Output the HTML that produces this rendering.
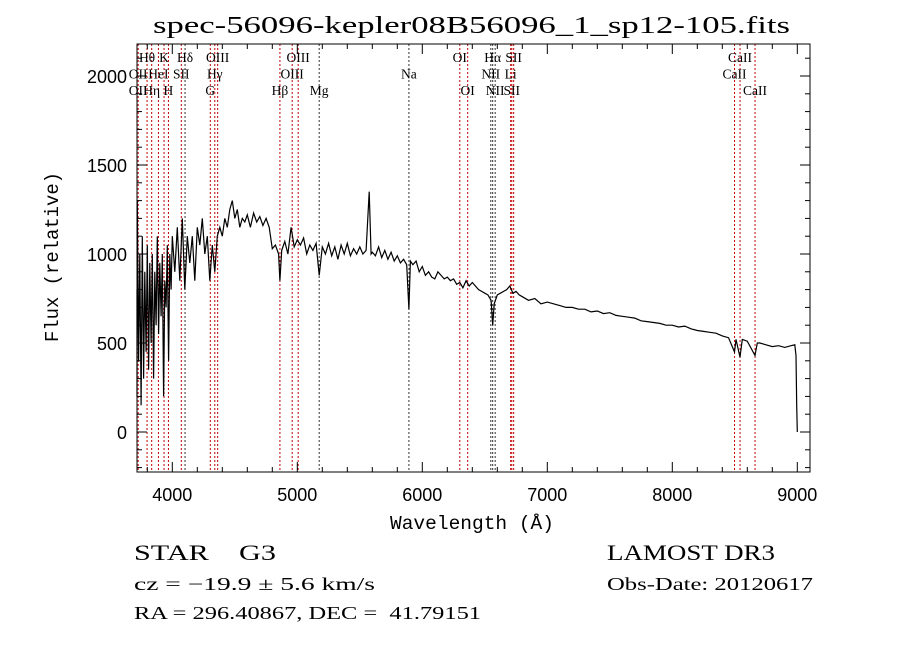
<!DOCTYPE html>
<html><head><meta charset="utf-8"><style>
html,body{margin:0;padding:0;background:#fff;}
svg{display:block;font-family:"Liberation Serif",serif;}
text{white-space:pre;}
</style></head><body>
<svg id="chart" width="900" height="649" viewBox="0 0 900 649" xmlns="http://www.w3.org/2000/svg" xml:space="preserve">
<rect width="900" height="649" fill="#fff"/>
<text x="153" y="33" font-size="24" textLength="637" lengthAdjust="spacingAndGlyphs">spec-56096-kepler08B56096_1_sp12-105.fits</text>
<g id="lines"></g>
<g id="labels"></g>
<g id="spec"></g>
<g id="axes"></g>
<text x="390" y="529" font-size="19" font-family="Liberation Mono, monospace" textLength="164" lengthAdjust="spacingAndGlyphs">Wavelength (Å)</text>
<text transform="translate(58,342) rotate(-90)" font-size="19" font-family="Liberation Mono, monospace" textLength="170" lengthAdjust="spacingAndGlyphs">Flux (relative)</text>
<text x="134" y="560" font-size="22" textLength="142" lengthAdjust="spacingAndGlyphs">STAR    G3</text>
<text x="607" y="560" font-size="22" textLength="168" lengthAdjust="spacingAndGlyphs">LAMOST DR3</text>
<text x="134" y="590" font-size="18" textLength="241" lengthAdjust="spacingAndGlyphs">cz = −19.9 ± 5.6 km/s</text>
<text x="607" y="590" font-size="18" textLength="206" lengthAdjust="spacingAndGlyphs">Obs-Date: 20120617</text>
<text x="134" y="619" font-size="18" textLength="347" lengthAdjust="spacingAndGlyphs">RA = 296.40867, DEC =  41.79151</text>
</svg>
<script>
const waves=[3700,3710,3720,3730,3740,3750,3760,3770,3780,3790,3800,3810,3820,3830,3840,3850,3860,3870,3880,3890,3900,3910,3920,3930,3940,3950,3960,3970,3980,3990,4000,
4020,4040,4060,4080,4100,4120,4140,4160,4180,4200,4220,4240,4260,4280,4300,4320,4340,4360,4380,4400,4420,4440,4460,4480,4500,4520,4540,4560,4580,4600,
4625,4650,4675,4700,4725,4750,4775,4800,4825,4850,4861,4875,4900,4925,4950,4975,5000,5025,5050,5075,5100,5125,5150,5175,5200,5225,5250,5275,5300,5325,5350,5375,5400,5425,5450,5475,5500,5525,5550,5575,5590,5600,
5625,5650,5675,5700,5725,5750,5775,5800,5825,5850,5875,5893,5905,5925,5950,5975,6000,6025,6050,6075,6100,6125,6150,6175,6200,6225,6250,6275,6300,6325,6350,6375,6400,6425,6450,6475,6500,6525,6550,6563,6575,6600,6625,6650,6675,6700,6725,6750,6775,6800,
6850,6900,6950,7000,7050,7100,7150,7200,7250,7300,7350,7400,7450,7500,7550,7600,7650,7700,7750,7800,7850,7900,7950,8000,8050,8100,8150,8200,8250,8300,8350,8400,8450,8498,8510,8542,8560,8600,8662,8680,8700,8750,8800,8850,8900,8950,8980,8990,8995,9000];
const flux=[800,200,1300,400,1000,150,1100,300,900,450,1050,350,950,500,1000,300,900,600,1100,550,950,650,1000,200,850,700,1050,400,1000,800,1100,
900,1150,850,1200,800,1100,950,1100,850,1150,1050,1200,1000,1100,850,1050,900,1100,1150,1100,1200,1150,1250,1300,1200,1250,1150,1200,1180,1220,
1150,1230,1180,1210,1160,1200,1150,1030,1050,1000,850,1020,1070,1000,1150,1040,1080,1050,1090,1000,1050,1020,1060,880,1040,1000,1060,990,1040,970,1050,1000,1060,990,1030,1000,1040,1000,1020,1350,1000,1010,
990,1040,980,1020,970,1010,960,990,950,970,940,690,960,940,960,900,930,880,900,870,860,900,880,860,870,850,860,830,840,810,850,820,840,820,800,790,780,770,740,600,720,770,780,790,800,820,780,790,770,760,
740,750,720,730,720,710,700,700,690,690,675,680,665,670,655,650,645,640,625,620,615,610,600,600,590,595,580,570,565,560,555,540,530,450,520,420,520,510,430,500,500,490,480,485,475,485,490,430,150,0];
const xTicks=[4000,5000,6000,7000,8000,9000];
const yTicks=[0,500,1000,1500,2000];
const lineWaves=[3727,3798,3835,3889,3934,3969,4072,4102,4304,4340,4363,4861,4959,5007,5175,5893,6300,6363,6548,6563,6583,6707,6716,6731,8498,8542,8662];
const lineBlack=[4102,5175,5893,6548,6563,6583];
const labelNames=["Hθ","K","Hδ","OIII","OIII","OI","Hα","SII","CaII","OII","HeI","SII","Hγ","OIII","Na","NII","Li","CaII","OII","Hη","H","G","Hβ","Mg","OI","NII","SII","CaII"];
const labelWaves=[3798,3934,4102,4363,5007,6300,6563,6731,8542,3727,3889,4072,4340,4959,5893,6548,6707,8498,3727,3835,3969,4304,4861,5175,6363,6583,6716,8662];
const labelRows=[0,0,0,0,0,0,0,0,0,1,1,1,1,1,1,1,1,1,2,2,2,2,2,2,2,2,2,2];

const L=137,R=810,T=44,B=472;
const X=w=>172.3+(w-4000)*0.125;
const Y=f=>432-f*0.178;
const NS="http://www.w3.org/2000/svg";
function mk(tag,attrs,parent){const e=document.createElementNS(NS,tag);for(const k in attrs)e.setAttribute(k,attrs[k]);parent.appendChild(e);return e;}
const gl=document.getElementById('lines'),glab=document.getElementById('labels'),gs=document.getElementById('spec'),ga=document.getElementById('axes');
lineWaves.forEach(w=>{
  const e=mk('line',{x1:X(w),x2:X(w),y1:T,y2:B,stroke:lineBlack.includes(w)?'#333':'#c00000','stroke-width':1,'stroke-dasharray':'2,2'},gl);
  
  
});
labelNames.forEach((n,i)=>{
  const t=mk('text',{x:X(labelWaves[i]),y:62+labelRows[i]*16.5,'font-size':13.5,'text-anchor':'middle'},glab);
  t.textContent=n;
  
  
});
let d='';
waves.forEach((w,i)=>{
  const x=Math.max(L,X(w)),y=Math.min(B,Math.max(T,Y(flux[i])));
  d+=(i?'L':'M')+x.toFixed(1)+','+y.toFixed(1);
});
const p=mk('path',{d:d,fill:'none',stroke:'#000','stroke-width':1.2},gs);


const box=mk('rect',{x:L,y:T,width:R-L,height:B-T,fill:'none',stroke:'#000','stroke-width':1},ga);


for(let w=3800;w<=9100;w+=200){
  const x=X(w);if(x<L||x>R)continue;
  const len=(w%1000===0)?10:5;
  mk('line',{x1:x,x2:x,y1:B,y2:B-len,stroke:'#000'},ga);
  mk('line',{x1:x,x2:x,y1:T,y2:T+len,stroke:'#000'},ga);
}
for(let f=-200;f<=2100;f+=100){
  const y=Y(f);if(y<T||y>B)continue;
  const len=(f%500===0)?10:5;
  mk('line',{x1:L,x2:L+len,y1:y,y2:y,stroke:'#000'},ga);
  mk('line',{x1:R,x2:R-len,y1:y,y2:y,stroke:'#000'},ga);
}
xTicks.forEach(v=>{
  const t=mk('text',{x:X(v),y:501,'font-size':18,'text-anchor':'middle','font-family':'Liberation Sans, sans-serif'},ga);
  t.textContent=v;
  
  
});
yTicks.forEach(v=>{
  const t=mk('text',{x:127,y:Y(v)+7,'font-size':18,'text-anchor':'end','font-family':'Liberation Sans, sans-serif'},ga);
  t.textContent=v;
  
  
});
</script>
</body></html>
